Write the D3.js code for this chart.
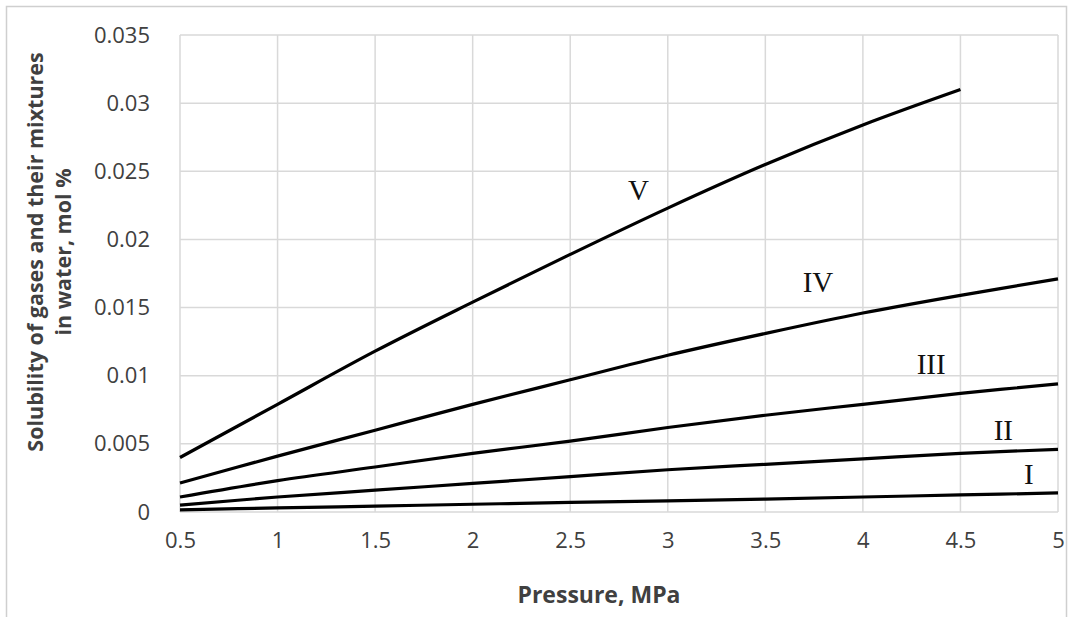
<!doctype html>
<html>
<head>
    <style>
        body { margin: 0; background: #fff; }
        .tick text { font-family: "Open Sans", sans-serif; font-size: 22px; fill: #404040; }
        .grid line { stroke: #d9d9d9; stroke-width: 1.5px; }
        .curve { fill: none; stroke: #000; stroke-width: 3.2px; }
        .lbl { font-family: "Liberation Serif", serif; font-size: 29px; fill: #111; }
        .title { font-family: "Open Sans", sans-serif; font-weight: bold; fill: #404040; }
</style>
    <script src="https://d3js.org/d3.v7.min.js"></script>
</head>
<body>
    <svg width="1073" height="617"></svg>
    <script>
        // values
        var pressure = [0.5, 1, 1.5, 2, 2.5, 3, 3.5, 4, 4.5, 5];
        var curveI   = [0.00015, 0.0003, 0.00043, 0.00057, 0.0007, 0.00082, 0.00095, 0.0011, 0.00125, 0.0014];
        var curveII  = [0.0005, 0.0011, 0.0016, 0.0021, 0.0026, 0.0031, 0.0035, 0.0039, 0.0043, 0.0046];
        var curveIII = [0.0011, 0.0023, 0.0033, 0.0043, 0.0052, 0.0062, 0.0071, 0.0079, 0.0087, 0.0094];
        var curveIV  = [0.00213, 0.0041, 0.0060, 0.0079, 0.0097, 0.0115, 0.0131, 0.0146, 0.0159, 0.0171];
        var curveV   = [0.004, 0.0079, 0.0118, 0.0154, 0.0189, 0.0223, 0.0255, 0.0284, 0.031];

        var xTicks = [0.5, 1, 1.5, 2, 2.5, 3, 3.5, 4, 4.5, 5];
        var yTicks = [0, 0.005, 0.01, 0.015, 0.02, 0.025, 0.03, 0.035];

        var labelNames = ["I", "II", "III", "IV", "V"];
        var labelX = [4.85, 4.72, 4.35, 3.77, 2.85];
        var labelY = [0.00205, 0.00528, 0.01013, 0.01614, 0.0229];

        var svg = d3.select("svg");

        // outer frame
        svg.append("rect")
           .attr("x", 6.5).attr("y", 6.5)
           .attr("width", 1060).attr("height", 620)
           .attr("fill", "none").attr("stroke", "#cfcfcf").attr("stroke-width", 1.5);

        var x = d3.scaleLinear().domain([0.5, 5]).range([180, 1058]),
            y = d3.scaleLinear().domain([0, 0.035]).range([512, 35]);

        // grid
        var grid = svg.append("g").attr("class", "grid");
        grid.selectAll(".gx").data(xTicks).enter().append("line")
            .attr("x1", function(d) { return x(d); }).attr("x2", function(d) { return x(d); })
            .attr("y1", y(0)).attr("y2", y(0.035));
        grid.selectAll(".gy").data(yTicks).enter().append("line")
            .attr("y1", function(d) { return y(d); }).attr("y2", function(d) { return y(d); })
            .attr("x1", x(0.5)).attr("x2", x(5));

        var fmt = function(d) { return String(+d.toFixed(3)); };

        svg.append("g")
           .attr("transform", "translate(0," + y(0) + ")")
           .call(d3.axisBottom(x).tickValues(xTicks).tickFormat(fmt).tickSize(0).tickPadding(20))
           .call(function(g) { g.select(".domain").remove(); });

        svg.append("g")
           .attr("transform", "translate(" + x(0.5) + ",0)")
           .call(d3.axisLeft(y).tickValues(yTicks).tickFormat(fmt).tickSize(0).tickPadding(30))
           .call(function(g) { g.select(".domain").remove(); });

        // curves
        var series = [curveI, curveII, curveIII, curveIV, curveV];
        var line = d3.line()
            .x(function(d, i) { return x(pressure[i]); })
            .y(function(d) { return y(d); })
            .curve(d3.curveCatmullRom);

        svg.selectAll(".curve").data(series).enter().append("path")
           .attr("class", "curve")
           .attr("d", line);

        // roman labels
        svg.selectAll(".lbl").data(labelNames).enter().append("text")
           .attr("class", "lbl")
           .attr("text-anchor", "middle")
           .attr("x", function(d, i) { return x(labelX[i]); })
           .attr("y", function(d, i) { return y(labelY[i]); })
           .text(function(d) { return d; });

        // axis titles
        svg.append("text")
           .attr("class", "title")
           .attr("x", 599).attr("y", 603)
           .attr("text-anchor", "middle")
           .attr("font-size", "23px")
           .text("Pressure, MPa");

        var yt = svg.append("text")
           .attr("class", "title")
           .attr("transform", "translate(0,252) rotate(-90)")
           .attr("text-anchor", "middle")
           .attr("font-size", "21.5px");
        yt.append("tspan").attr("x", 0).attr("y", 43).text("Solubility of gases and their mixtures");
        yt.append("tspan").attr("x", 0).attr("y", 71).text("in water, mol %");
</script>
</body>
</html>
